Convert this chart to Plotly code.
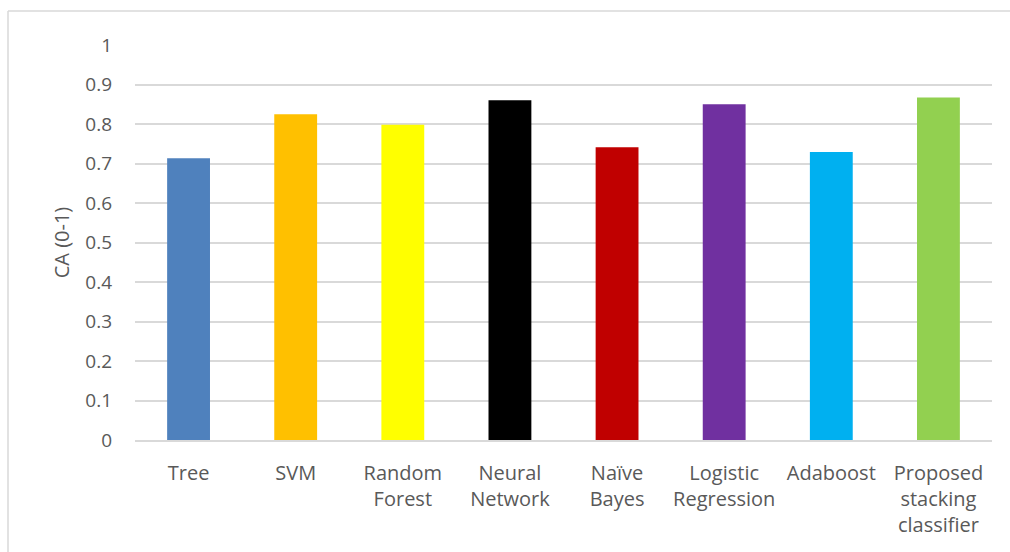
import plotly.graph_objects as go

categories = ["Tree", "SVM", "Random<br>Forest", "Neural<br>Network", "Naïve<br>Bayes",
              "Logistic<br>Regression", "Adaboost", "Proposed<br>stacking<br>classifier"]
ca_values = [0.713, 0.825, 0.798, 0.860, 0.741, 0.850, 0.729, 0.867]
bar_colors = ["#4F81BD", "#FFC000", "#FFFF00", "#000000", "#C00000",
              "#7030A0", "#00B0F0", "#92D050"]
y_ticks = [0, 0.1, 0.2, 0.3, 0.4, 0.5, 0.6, 0.7, 0.8, 0.9, 1]
y_tick_labels = ["0", "0.1", "0.2", "0.3", "0.4", "0.5", "0.6", "0.7", "0.8", "0.9", "1"]

W, H = 1010, 552
L, R, T, B = 135, 18, 45, 112
pw, ph = W - L - R, H - T - B

fig = go.Figure(go.Bar(x=categories, y=ca_values, marker=dict(color=bar_colors, line_width=0),
                       width=0.4))

font_family = "Open Sans"
fig.update_layout(
    width=W, height=H,
    margin=dict(l=L, r=R, t=T, b=B),
    paper_bgcolor="white", plot_bgcolor="white",
    showlegend=False,
    font=dict(family=font_family, color="#595959", size=19),
    xaxis=dict(showgrid=False, showline=True, linecolor="#D9D9D9", linewidth=1.5,
               ticks="", tickfont=dict(size=20, color="#595959"), ticklabelstandoff=14,
               zeroline=False),
    yaxis=dict(range=[0, 1], tickvals=y_ticks, ticktext=y_tick_labels,
               showgrid=True, gridcolor="#D9D9D9", gridwidth=1.5, zeroline=False,
               ticks="", ticklabelstandoff=22, tickfont=dict(size=19, color="#595959"),
               title=dict(text="CA (0-1)", font=dict(size=20, color="#595959"), standoff=10)),
)

# outer chart-area border (Excel style)
fig.add_shape(type="line", xref="paper", yref="paper",
              x0=(8 - L) / pw, x1=(W + 5 - L) / pw,
              y0=(H - B - 11) / ph, y1=(H - B - 11) / ph,
              line=dict(color="#D9D9D9", width=1.5))
fig.add_shape(type="line", xref="paper", yref="paper",
              x0=(8 - L) / pw, x1=(8 - L) / pw,
              y0=(H - B - 11) / ph, y1=-(B + 10) / ph,
              line=dict(color="#D9D9D9", width=1.5))

fig.write_html("out.html")
